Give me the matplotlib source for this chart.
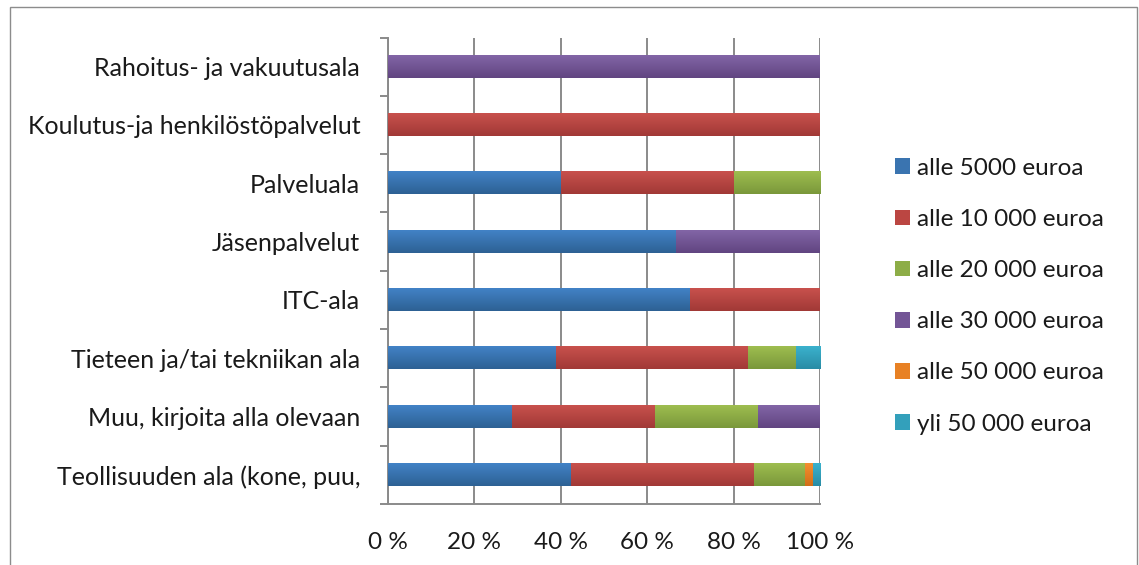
import matplotlib
matplotlib.use("Agg")
import matplotlib.pyplot as plt
from matplotlib.patches import Rectangle, Patch
from matplotlib.colors import to_rgb
import numpy as np

plt.rcParams['font.family'] = ['Lato', 'DejaVu Sans']

# Categories, drawn top to bottom
categories = [
    "Rahoitus- ja vakuutusala",
    "Koulutus-ja henkilöstöpalvelut",
    "Palveluala",
    "Jäsenpalvelut",
    "ITC-ala",
    "Tieteen ja/tai tekniikan ala",
    "Muu, kirjoita alla olevaan",
    "Teollisuuden ala (kone, puu,",
]

series_names = [
    "alle 5000 euroa",
    "alle 10 000 euroa",
    "alle 20 000 euroa",
    "alle 30 000 euroa",
    "alle 50 000 euroa",
    "yli 50 000 euroa",
]

# Share of answers (%) per category for each series
alle_5000 = [0, 0, 40, 66.7, 70, 38.9, 28.6, 42.4]
alle_10000 = [0, 100, 40, 0, 30, 44.4, 33.3, 42.4]
alle_20000 = [0, 0, 20, 0, 0, 11.1, 23.8, 11.9]
alle_30000 = [100, 0, 0, 33.3, 0, 0, 14.3, 0]
alle_50000 = [0, 0, 0, 0, 0, 0, 0, 1.7]
yli_50000 = [0, 0, 0, 0, 0, 5.6, 0, 1.7]

series = [alle_5000, alle_10000, alle_20000, alle_30000, alle_50000, yli_50000]
colors = ["#3A74B0", "#BB4642", "#8DAD47", "#735596", "#E88124", "#33A0BB"]
tops = ["#4282C6", "#C8514D", "#9EBD50", "#8265A6", "#F48F30", "#3BB1CD"]
bottoms = ["#2D6194", "#A13936", "#7A983A", "#614581", "#D26E17", "#298CA5"]

xticks = [0, 20, 40, 60, 80, 100]
xtick_labels = ["0 %", "20 %", "40 %", "60 %", "80 %", "100 %"]

W, H = 1139, 565
fig = plt.figure(figsize=(W / 100, H / 100), dpi=100)
fig.patch.set_facecolor("white")

# outer chart frame
fig.patches.append(Rectangle((10 / W, -0.02), (1137 - 10) / W, 1.02 - 7 / H,
                             transform=fig.transFigure, fill=False,
                             edgecolor="#8c8c8c", linewidth=1.0))

ax = fig.add_axes([388 / W, 1 - 504 / H, (820 - 388) / W, (504 - 37.5) / H])

grid_color = "#8a8a8a"
bar_h = 0.38
y = np.arange(len(categories))
totals = np.array([sum(v) for v in zip(*series)])
left = np.zeros(len(categories))
containers = []
for vals, col in zip(series, colors):
    v = np.array(vals) / totals * 100
    bc = ax.barh(y, v, left=left, height=bar_h, color=col, edgecolor="none", zorder=3)
    containers.append(bc)
    left += v

# vertical shading on each bar segment (lighter top, darker bottom)
n = 40
t = np.linspace(0, 1, n)[:, None, None]
for bc, c_top, c_bot in zip(containers, tops, bottoms):
    g = (1 - t) * np.array(to_rgb(c_top)) + t * np.array(to_rgb(c_bot))
    for p in bc.patches:
        if p.get_width() <= 0:
            continue
        x0, y0 = p.get_x(), p.get_y()
        ax.imshow(g, extent=[x0, x0 + p.get_width(), y0 + p.get_height(), y0],
                  origin="upper", aspect="auto", interpolation="bilinear", zorder=3.5)

ax.set_xlim(0, 100)
ax.set_ylim(len(categories) - 0.5, -0.5)
ax.set_aspect("auto")

ax.set_xticks(xticks)
ax.set_xticklabels(xtick_labels, fontsize=17.5, color="#1a1a1a")
ax.tick_params(axis="x", length=0, pad=20.5)
ax.grid(axis="x", color=grid_color, linewidth=1.4, zorder=0)
ax.set_axisbelow(True)

ax.set_yticks(y)
ax.set_yticklabels(categories, fontsize=18, color="#1a1a1a")
ax.tick_params(axis="y", which="major", length=0, pad=20)
ax.set_yticks(np.arange(-0.5, len(categories)), minor=True)
ax.tick_params(axis="y", which="minor", length=6, width=1.4, color=grid_color,
               direction="out")

for s in ("top", "right"):
    ax.spines[s].set_visible(False)
for s in ("left", "bottom"):
    ax.spines[s].set_color(grid_color)
    ax.spines[s].set_linewidth(1.4)

handles = [Patch(facecolor=c, edgecolor="none") for c in colors]
fig.legend(handles, series_names, loc="upper left",
           bbox_to_anchor=(873 / W, 1 - 136 / H), frameon=False,
           fontsize=17.5, handlelength=0.62, handleheight=0.62,
           handletextpad=0.3, labelspacing=1.24, labelcolor="#1a1a1a")

fig.savefig("out.png", dpi=100)
